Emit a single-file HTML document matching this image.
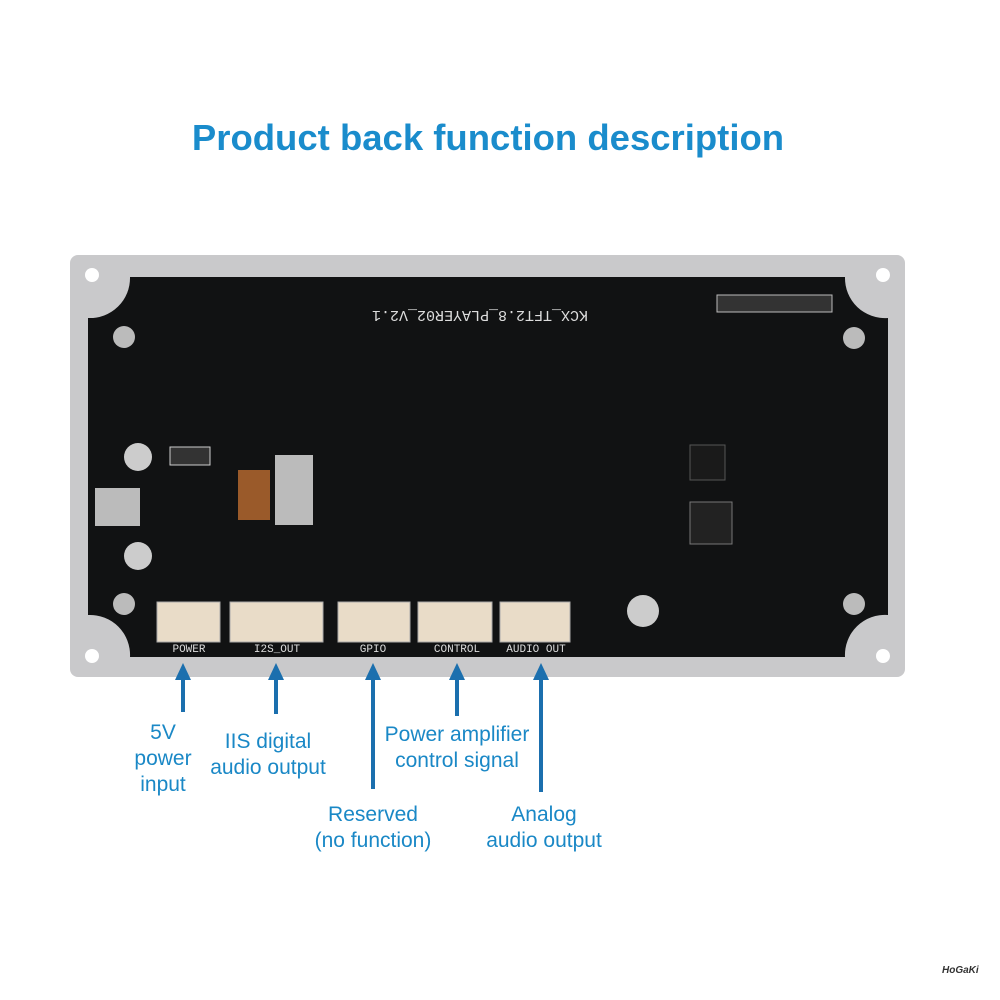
<!DOCTYPE html>
<html><head><meta charset="utf-8"><style>
body{margin:0;width:1000px;height:1000px;background:#fff;position:relative;overflow:hidden;font-family:"Liberation Sans",sans-serif}
.t{position:absolute;color:#1a88c6;font-size:21px;text-align:center;line-height:26px;white-space:nowrap}
</style></head><body>
<div style="position:absolute;left:0;width:976px;top:117px;text-align:center;color:#1a8ccc;font-weight:bold;font-size:36.5px">Product back function description</div>
<svg width="1000" height="1000" style="position:absolute;left:0;top:0">
<rect x="70" y="255" width="835" height="422" rx="8" fill="#c9c9cb"/>
<circle cx="92" cy="275" r="7" fill="#fff"/><circle cx="883" cy="275" r="7" fill="#fff"/>
<circle cx="92" cy="656" r="7" fill="#fff"/><circle cx="883" cy="656" r="7" fill="#fff"/>
<path d="M130 277 L845 277 A40 40 0 0 0 888 318 L888 615 A40 40 0 0 0 845 657 L130 657 A40 40 0 0 0 88 615 L88 318 A40 40 0 0 0 130 277Z" fill="#111213"/>
<text x="480" y="321" fill="#ddd" font-family="Liberation Mono" font-size="15" transform="rotate(180 480 316)" text-anchor="middle">KCX_TFT2.8_PLAYER02_V2.1</text>
<g fill="#bbb"><circle cx="124" cy="337" r="11"/><circle cx="854" cy="338" r="11"/><circle cx="124" cy="604" r="11"/><circle cx="854" cy="604" r="11"/></g>
<g fill="#ccc"><circle cx="138" cy="457" r="14"/><circle cx="138" cy="556" r="14"/><circle cx="643" cy="611" r="16"/></g>
<rect x="95" y="488" width="45" height="38" fill="#bbb"/>
<rect x="238" y="470" width="32" height="50" fill="#9a5a2a"/>
<rect x="275" y="455" width="38" height="70" fill="#bbb"/>
<rect x="170" y="447" width="40" height="18" fill="#333" stroke="#ccc"/>
<rect x="690" y="502" width="42" height="42" fill="#222" stroke="#777"/>
<rect x="690" y="445" width="35" height="35" fill="#1a1a1a" stroke="#555"/>
<rect x="717" y="295" width="115" height="17" fill="#333" stroke="#bbb"/>
<g fill="#e9dcc8" stroke="#aaa"><rect x="157" y="602" width="63" height="40"/><rect x="230" y="602" width="93" height="40"/><rect x="338" y="602" width="72" height="40"/><rect x="418" y="602" width="74" height="40"/><rect x="500" y="602" width="70" height="40"/></g>
<g fill="#ddd" font-family="Liberation Mono" font-size="11" text-anchor="middle"><text x="189" y="652">POWER</text><text x="277" y="652">I2S_OUT</text><text x="373" y="652">GPIO</text><text x="457" y="652">CONTROL</text><text x="536" y="652">AUDIO OUT</text></g>
<g fill="#1b6fae"><rect x="181" y="678" width="4" height="34"/><polygon points="183,663 175,680 191,680"/>
<rect x="274" y="678" width="4" height="36"/><polygon points="276,663 268,680 284,680"/>
<rect x="371" y="678" width="4" height="111"/><polygon points="373,663 365,680 381,680"/>
<rect x="455" y="678" width="4" height="38"/><polygon points="457,663 449,680 465,680"/>
<rect x="539" y="678" width="4" height="114"/><polygon points="541,663 533,680 549,680"/></g>
</svg>
<div class="t" style="left:120px;width:86px;top:720px">5V<br>power<br>input</div>
<div class="t" style="left:196px;width:144px;top:729px">IIS digital<br>audio output</div>
<div class="t" style="left:372px;width:170px;top:722px">Power amplifier<br>control signal</div>
<div class="t" style="left:293px;width:160px;top:802px">Reserved<br>(no function)</div>
<div class="t" style="left:464px;width:160px;top:802px">Analog<br>audio output</div>
<div style="position:absolute;left:942px;top:965px;font-size:10px;font-weight:bold;font-style:italic;color:#333">HoGaKi</div>
</body></html>
